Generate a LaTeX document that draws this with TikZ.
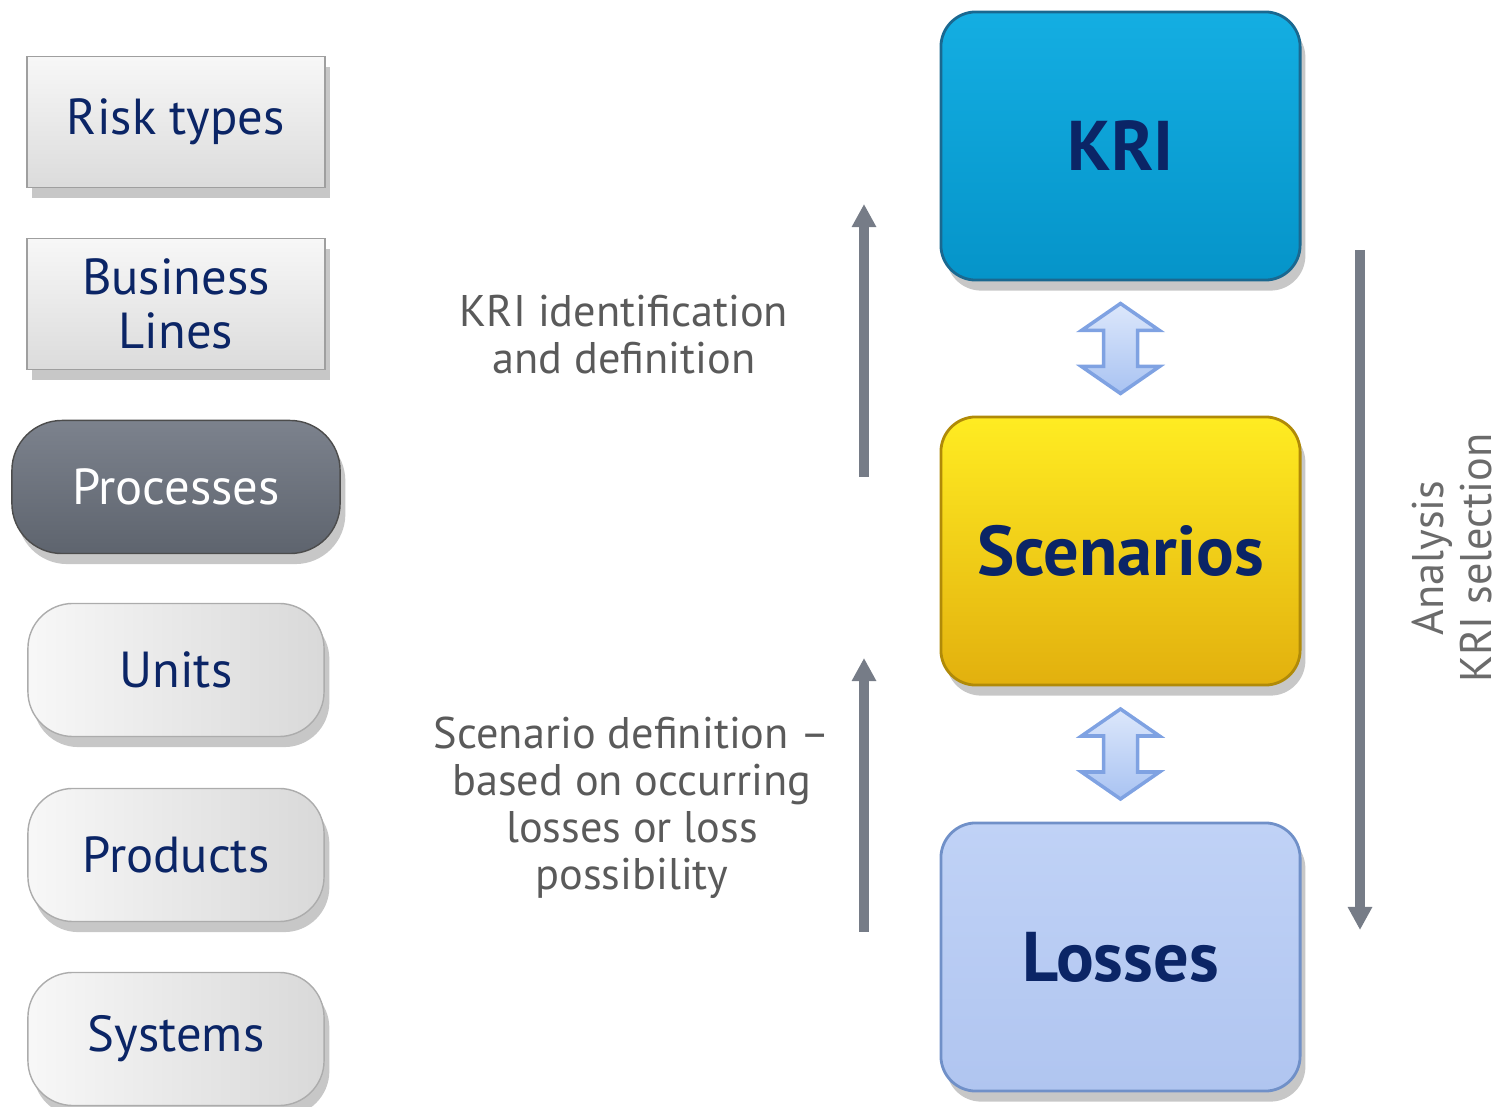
\documentclass[tikz,border=0pt]{standalone}
\usepackage{fontspec}
\setmainfont{PT Sans}
\usetikzlibrary{shadows,arrows.meta,calc}
\definecolor{navy}{HTML}{0B2566}
\definecolor{lblue1}{HTML}{DCE7FB}
\definecolor{lblue2}{HTML}{A9C3F2}
\definecolor{lbline}{HTML}{7FA2E2}
\definecolor{garr}{HTML}{767C87}
\definecolor{txtgray}{HTML}{5A5A5A}
\definecolor{kriT}{HTML}{14AEE2}
\definecolor{kriB}{HTML}{0594C9}
\definecolor{kriD}{HTML}{1A6890}
\definecolor{scT}{HTML}{FFEC22}
\definecolor{scB}{HTML}{E2B00E}
\definecolor{scD}{HTML}{B08A08}
\definecolor{loT}{HTML}{C0D2F6}
\definecolor{loB}{HTML}{B0C5F0}
\definecolor{loD}{HTML}{7090C8}
\definecolor{prT}{HTML}{7C828D}
\definecolor{prB}{HTML}{5E646E}
\begin{document}
\begin{tikzpicture}[x=0.01cm,y=-0.01cm,
  shad/.style={drop shadow={shadow xshift=1.5pt,shadow yshift=-3pt,opacity=0.22,fill=black}},
  lefttext/.style={font=\fontsize{14.4}{15.4}\selectfont, text=navy, align=center},
  sqbox/.style={rectangle, minimum width=2.98cm, minimum height=1.31cm, draw=gray!75,
     top color=gray!6, bottom color=gray!28, shad, lefttext},
  pillbox/.style={rectangle, rounded corners=0.45cm, minimum width=2.96cm, minimum height=1.33cm,
     draw=gray!65, left color=gray!6, right color=gray!30, shad, lefttext},
  darkbox/.style={rectangle, rounded corners=0.5cm, minimum width=3.28cm, minimum height=1.33cm,
     draw=black!70, top color=prT, bottom color=prB, shad,
     lefttext, text=white},
  bigbox/.style={rectangle, rounded corners=0.35cm, minimum width=3.59cm, minimum height=2.68cm,
     shad, line width=0.8pt, font=\bfseries\fontsize{20}{20}\selectfont, text=navy},
  midtext/.style={align=center, text=txtgray, font=\fontsize{12.6}{13.4}\selectfont},
  rottext/.style={align=center, text=txtgray!90, font=\fontsize{12.6}{13.4}\selectfont},
  garrow/.style={draw=garr, line width=2.6pt, -{Triangle[width=0.23cm,length=0.23cm]}},
  dbl/.pic={\draw[lbline, line width=1pt, top color=lblue1, bottom color=lblue2]
     (0,-45) -- (39,-18) -- (17,-18) -- (17,18) -- (39,18) -- (0,45)
     -- (-39,18) -- (-17,18) -- (-17,-18) -- (-39,-18) -- cycle;}
]
\useasboundingbox (0,0) rectangle (1500,1107);

% left column
\node[sqbox] (risk) at (176,122) {Risk types};
\node[sqbox] (bl) at (176,304) {Business\\Lines};
\node[darkbox] (proc) at (176,487) {Processes};
\node[pillbox] (units) at (176,670) {Units};
\node[pillbox] (prod) at (176,855) {Products};
\node[pillbox] (sys) at (176,1039) {Systems};

% right column
\node[bigbox, draw=kriD, top color=kriT, bottom color=kriB] (kri) at (1120.5,146) {KRI};
\node[bigbox, draw=scD, top color=scT, bottom color=scB] (scen) at (1120.5,551) {Scenarios};
\node[bigbox, draw=loD, top color=loT, bottom color=loB] (loss) at (1120.5,957) {Losses};

\pic at ($(kri.south)!0.5!(scen.north)$) {dbl};
\pic at ($(scen.south)!0.5!(loss.north)$) {dbl};

% vertical arrows
\coordinate (a1s) at (864,477);
\coordinate (a1e) at (864,204);
\coordinate (a2s) at (864,932);
\coordinate (a2e) at (864,658);
\coordinate (a3s) at (1360,250);
\coordinate (a3e) at (1360,930);
\draw[garrow] (a1s) -- (a1e);
\draw[garrow] (a2s) -- (a2e);
\draw[garrow] (a3s) -- (a3e);

% labels
\node[midtext] (lab1) at (624,335) {KRI identification\\and definition};
\node[midtext] (lab2) at (632,808) {Scenario definition –\\based on occurring\\losses or loss\\possibility};
\node[rottext, rotate=90] (lab3) at (1452,558) {Analysis\\KRI selection};
\end{tikzpicture}
\end{document}
